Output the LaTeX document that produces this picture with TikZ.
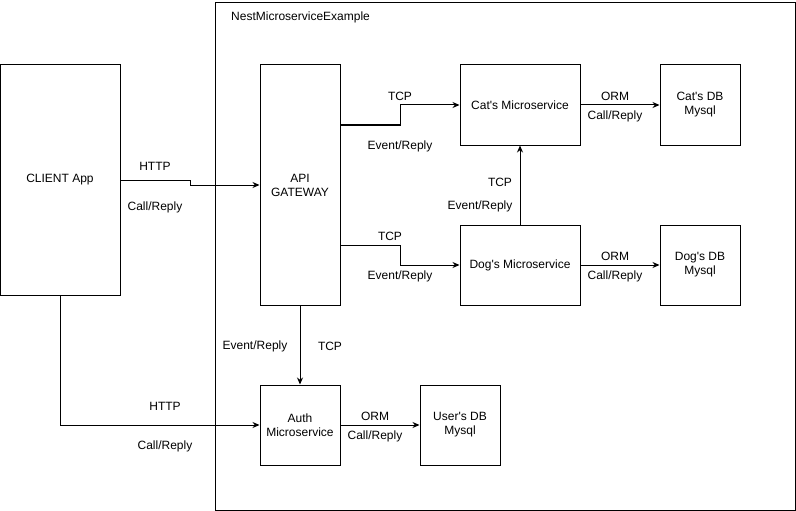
\documentclass[tikz,border=0pt]{standalone}
\usepackage{fontspec}
\setmainfont{Liberation Sans}[Ligatures=TeXOff]
\usetikzlibrary{arrows.meta}
\begin{document}
\begin{tikzpicture}[x=1pt,y=-1pt,
  box/.style={draw,line width=1pt,minimum width=#1,inner sep=0pt,align=center,font=\fontsize{12}{14}\selectfont},
  lbl/.style={inner sep=0pt,yshift=-1pt,font=\fontsize{12}{14}\selectfont},
  conn/.style={line width=1pt,-{Stealth[length=7pt,width=6pt]}}]
\useasboundingbox (0,0) rectangle (796,511);
\node[draw,line width=1pt,minimum width=580pt,minimum height=508pt,inner sep=0pt,anchor=north west] (cont) at (215,2) {};
\node[lbl,anchor=west] (title) at (231,16) {NestMicroserviceExample};
\node[box=120pt,minimum height=230pt] (client) at (60,180) {CLIENT App};
\node[box=80pt,minimum height=240pt] (api) at (300,185) {API\\GATEWAY};
\node[box=120pt,minimum height=80pt] (cat) at (520,105) {Cat's Microservice};
\node[box=80pt,minimum height=80pt] (catdb) at (700,105) {Cat's DB\\Mysql};
\node[box=120pt,minimum height=80pt] (dog) at (520,265) {Dog's Microservice};
\node[box=80pt,minimum height=80pt] (dogdb) at (700,265) {Dog's DB\\Mysql};
\node[box=80pt,minimum height=80pt] (auth) at (300,425) {Auth\\Microservice};
\node[box=80pt,minimum height=80pt] (userdb) at (460,425) {User's DB\\Mysql};

\draw[conn] (client.east |- 0,180) -- (190,180) -- (190,185) -- (api.west);
\draw[conn] (api.east |- 0,125) -- (400,125) -- (400,105) -- (cat.west);
\draw[conn] (api.east |- 0,245) -- (400,245) -- (400,265) -- (dog.west);
\draw[conn] (dog.north) -- (cat.south);
\draw[conn] (cat.east) -- (catdb.west);
\draw[conn] (dog.east) -- (dogdb.west);
\draw[conn] (api.south) -- (auth.north);
\draw[conn] (client.south) -- (60,425) -- (auth.west);
\draw[conn] (auth.east) -- (userdb.west);

\node[lbl] (l1) at (155,165) {HTTP};
\node[lbl] (l2) at (155,206) {Call/Reply};
\node[lbl] (l3) at (400,95) {TCP};
\node[lbl] (l4) at (400,145) {Event/Reply};
\node[lbl] (l5) at (390,235) {TCP};
\node[lbl] (l6) at (400,275) {Event/Reply};
\node[lbl] (l7) at (500,181) {TCP};
\node[lbl] (l8) at (480,205) {Event/Reply};
\node[lbl] (l9) at (615,95) {ORM};
\node[lbl] (l10) at (615,115) {Call/Reply};
\node[lbl] (l11) at (615,255) {ORM};
\node[lbl] (l12) at (615,275) {Call/Reply};
\node[lbl] (l13) at (255,345) {Event/Reply};
\node[lbl] (l14) at (330,345) {TCP};
\node[lbl] (l15) at (165,405) {HTTP};
\node[lbl] (l16) at (165,445) {Call/Reply};
\node[lbl] (l17) at (375,415) {ORM};
\node[lbl] (l18) at (375,435) {Call/Reply};
\end{tikzpicture}
\end{document}
